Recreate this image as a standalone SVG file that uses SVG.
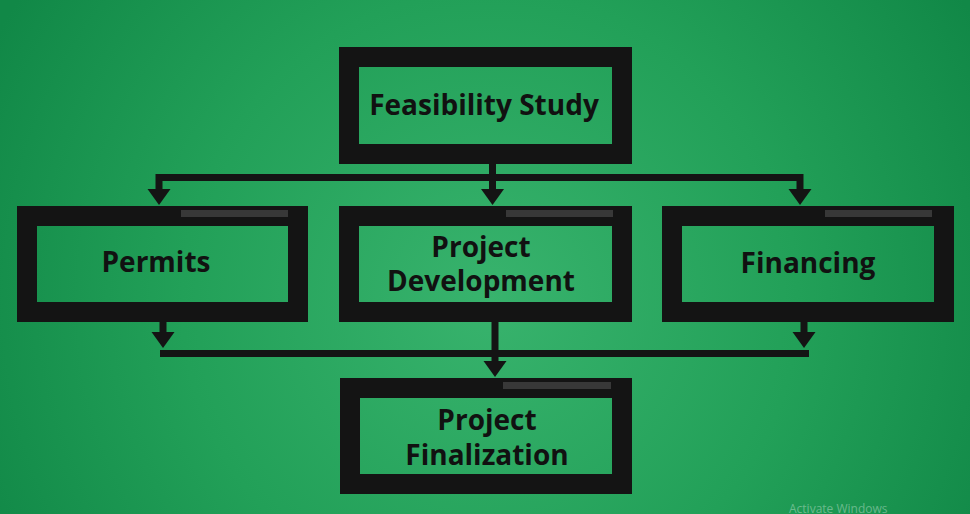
<svg xmlns="http://www.w3.org/2000/svg" width="970" height="514" viewBox="0 0 970 514">
<defs>
<radialGradient id="bg" cx="490" cy="300" r="560" gradientUnits="userSpaceOnUse">
<stop offset="0" stop-color="#38b36d"/>
<stop offset="0.55" stop-color="#22a058"/>
<stop offset="1" stop-color="#118847"/>
</radialGradient>
<path id="ah" d="M-11.5,-16 L11.5,-16 L0,0 Z"/>
<style>
.box{fill:none;stroke:#141414;stroke-width:20}
.tab{fill:#383838}
.lbl{font-family:"Open Sans","Liberation Sans",sans-serif;font-weight:700;font-size:28px;fill:#111;text-anchor:middle}
.ln{stroke:#141414;stroke-width:7;fill:none}
.hd{fill:#141414}
.wm{font-family:"Open Sans","Liberation Sans",sans-serif;font-size:12px;fill:#ffffff;fill-opacity:0.35}
</style>
</defs>
<rect x="0" y="0" width="970" height="514" fill="url(#bg)"/>

<g id="connectors">
<path class="ln" d="M492.5,164 V190 M156,177.5 H803.5 M159,174 V190 M800,174 V190"/>
<use href="#ah" class="hd" x="159" y="205"/>
<use href="#ah" class="hd" x="492.5" y="205"/>
<use href="#ah" class="hd" x="800" y="205"/>
<path class="ln" d="M163,322 V334 M804,322 V334 M160,353.5 H809 M495,322 V363"/>
<use href="#ah" class="hd" x="163" y="348"/>
<use href="#ah" class="hd" x="804" y="348"/>
<use href="#ah" class="hd" x="495" y="377"/>
</g>

<g id="feasibility">
<rect class="box" x="349" y="57" width="273" height="97"/>
<text class="lbl" x="484" y="115">Feasibility Study</text>
</g>

<g id="permits">
<rect class="box" x="27" y="216" width="271" height="96"/>
<rect class="tab" x="181" y="210" width="107" height="7"/>
<text class="lbl" x="156" y="272">Permits</text>
</g>

<g id="development">
<rect class="box" x="349" y="216" width="273" height="96"/>
<rect class="tab" x="506" y="210" width="107" height="7"/>
<text class="lbl" x="481" y="257">Project</text>
<text class="lbl" x="481" y="291">Development</text>
</g>

<g id="financing">
<rect class="box" x="672" y="216" width="272" height="96"/>
<rect class="tab" x="825" y="210" width="107" height="7"/>
<text class="lbl" x="808" y="273">Financing</text>
</g>

<g id="finalization">
<rect class="box" x="350" y="388" width="272" height="96"/>
<rect class="tab" x="503" y="382" width="108" height="7"/>
<text class="lbl" x="487" y="430">Project</text>
<text class="lbl" x="487" y="465">Finalization</text>
</g>

<text class="wm" x="789" y="513">Activate Windows</text>
</svg>
